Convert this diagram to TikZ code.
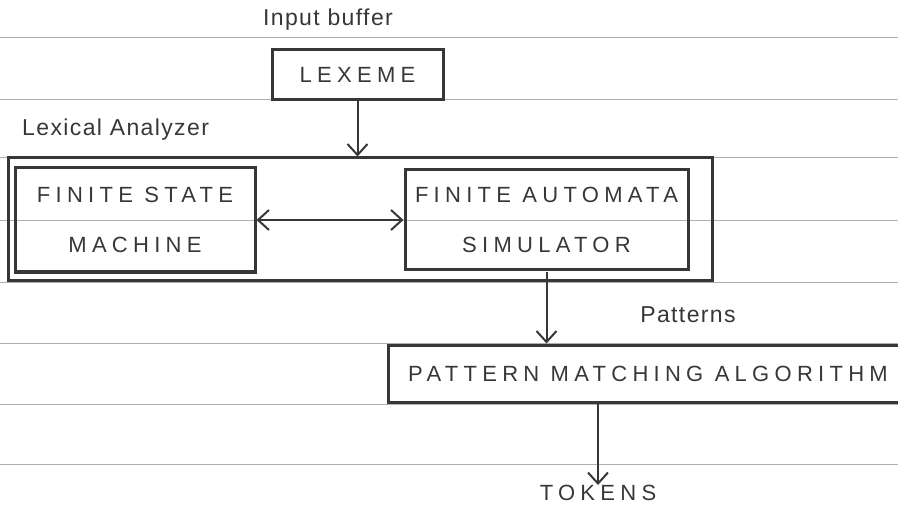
\documentclass[tikz,border=0pt]{standalone}
\usepackage{fontspec}
\setmainfont{Liberation Sans}
\newfontfamily\capsfont[LetterSpace=24]{Liberation Sans}
\newfontfamily\handfont[LetterSpace=6]{Liberation Sans}
\usetikzlibrary{positioning, arrows.meta}
\definecolor{pencil}{RGB}{55, 55, 55}
\definecolor{ruling}{RGB}{175, 175, 175}
\tikzset{
  box/.style={
    draw=pencil,
    line width=3pt,
    inner sep=0pt,
    align=center,
    text=pencil,
    font=\capsfont\fontsize{22}{50}\selectfont
  },
  caps/.style={
    inner sep=0pt,
    text=pencil,
    font=\capsfont\fontsize{22}{25}\selectfont
  },
  hand/.style={
    inner sep=0pt,
    text=pencil,
    font=\handfont\fontsize{23}{26}\selectfont
  },
  ruled/.style={
    draw=ruling,
    line width=1pt
  },
  >={Straight Barb[length=11pt, width=20pt]},
  every edge/.style={
    ->,
    draw=pencil,
    line width=2pt
  }
}

\begin{document}
\begin{tikzpicture}[x=1pt, y=-1pt]
          \useasboundingbox (0, 0) rectangle (898, 508);
          \clip (0, 0) rectangle (898, 508);
          % ruled paper
          \foreach \y in {38, 100, 158, 221, 282, 343, 404, 464}
            \draw[ruled] (0, \y) -- (898, \y);

          \node[hand] (inbuf) at (328, 20) {Input buffer};
          \node[box, minimum width=171, minimum height=50] (lexeme) at (357.5, 75) {LEXEME};
          \node[hand, anchor=west] (lexlabel) at (22, 130) {Lexical Analyzer};
          \node[box, minimum width=704, minimum height=122] (analyzer) at (360, 219) {};
          \node[box, minimum width=240, minimum height=104] (fsm) at (135, 220) {FINITE STATE\\MACHINE};
          \node[box, minimum width=283, minimum height=100] (fas) at (546.5, 220) {FINITE AUTOMATA\\SIMULATOR};
          \node[hand] (patterns) at (688, 315) {Patterns};
          \node[box, minimum width=520, minimum height=57] (pma) at (648, 373.5) {PATTERN MATCHING ALGORITHM};
          \node[caps] (tokens) at (598, 493) {TOKENS};

          \path (lexeme.south) edge (lexeme.south |- analyzer.north)
                (fsm.east) edge[<->] (fas.west)
                (fas.south) edge (fas.south |- pma.north)
                (tokens.north |- pma.south) edge (tokens.north);
        \end{tikzpicture}
\end{document}
